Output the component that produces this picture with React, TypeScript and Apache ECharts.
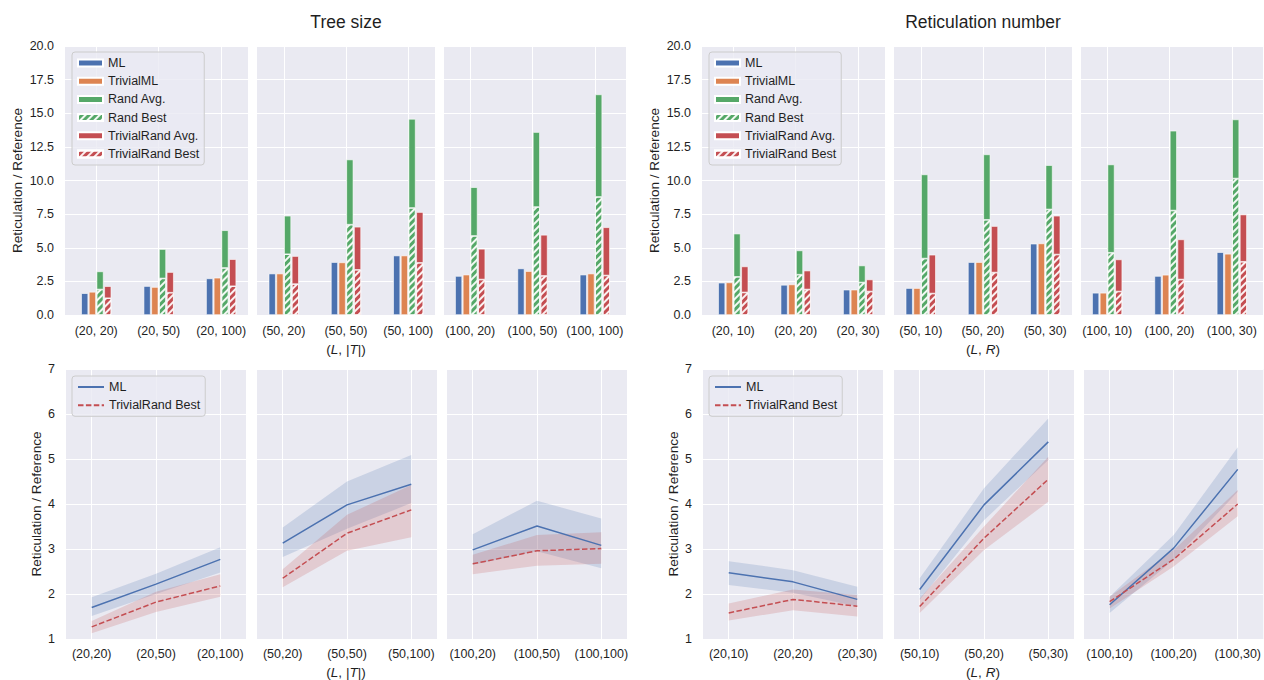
import React, { useEffect, useRef } from 'react';
import * as echarts from 'echarts';

// ---------- categories ----------
const treeCategories = ['(20, 20)', '(20, 50)', '(20, 100)', '(50, 20)', '(50, 50)', '(50, 100)', '(100, 20)', '(100, 50)', '(100, 100)'];
const treeLineCategories = ['(20,20)', '(20,50)', '(20,100)', '(50,20)', '(50,50)', '(50,100)', '(100,20)', '(100,50)', '(100,100)'];
const retCategories = ['(20, 10)', '(20, 20)', '(20, 30)', '(50, 10)', '(50, 20)', '(50, 30)', '(100, 10)', '(100, 20)', '(100, 30)'];
const retLineCategories = ['(20,10)', '(20,20)', '(20,30)', '(50,10)', '(50,20)', '(50,30)', '(100,10)', '(100,20)', '(100,30)'];

// ---------- bar values (Tree size) ----------
const treeML = [1.62, 2.15, 2.72, 3.08, 3.93, 4.42, 2.9, 3.46, 3.0];
const treeTrivialML = [1.72, 2.08, 2.77, 3.08, 3.91, 4.42, 3.0, 3.26, 3.08];
const treeRandAvg = [3.24, 4.9, 6.3, 7.38, 11.56, 14.58, 9.5, 13.6, 16.4];
const treeRandBest = [1.9, 2.72, 3.5, 4.52, 6.72, 7.96, 5.88, 8.03, 8.78];
const treeTrivRandAvg = [2.14, 3.19, 4.15, 4.38, 6.56, 7.65, 4.92, 5.96, 6.52];
const treeTrivRandBest = [1.25, 1.66, 2.14, 2.3, 3.36, 3.88, 2.64, 2.91, 2.94];

// ---------- bar values (Reticulation number) ----------
const retML = [2.4, 2.24, 1.88, 2.0, 3.93, 5.3, 1.65, 2.9, 4.67];
const retTrivialML = [2.42, 2.27, 1.88, 2.0, 3.93, 5.32, 1.65, 2.99, 4.55];
const retRandAvg = [6.05, 4.8, 3.68, 10.45, 11.94, 11.14, 11.19, 13.7, 14.54];
const retRandBest = [2.84, 3.0, 2.42, 4.2, 7.08, 7.85, 4.63, 7.77, 10.15];
const retTrivRandAvg = [3.61, 3.3, 2.64, 4.48, 6.61, 7.38, 4.13, 5.62, 7.47];
const retTrivRandBest = [1.68, 1.9, 1.75, 1.6, 3.16, 4.5, 1.75, 2.64, 3.96];

// ---------- line values (Tree size) ----------
const treeLineML = [1.7, 2.22, 2.77, 3.13, 3.98, 4.44, 2.98, 3.51, 3.08];
const treeLineMLLow = [1.51, 2.0, 2.48, 2.82, 3.45, 4.02, 2.65, 2.95, 2.57];
const treeLineMLHigh = [1.93, 2.45, 3.04, 3.48, 4.5, 5.09, 3.33, 4.07, 3.68];
const treeLineTRB = [1.27, 1.82, 2.18, 2.35, 3.35, 3.87, 2.67, 2.96, 3.01];
const treeLineTRBLow = [1.13, 1.6, 1.94, 2.15, 2.96, 3.26, 2.44, 2.63, 2.67];
const treeLineTRBHigh = [1.4, 2.05, 2.44, 2.55, 3.76, 4.42, 2.87, 3.31, 3.37];

// ---------- line values (Reticulation number) ----------
const retLineML = [2.47, 2.27, 1.88, 2.1, 3.98, 5.38, 1.76, 3.02, 4.77];
const retLineMLLow = [2.2, 2.03, 1.72, 1.87, 3.64, 4.98, 1.58, 2.76, 4.27];
const retLineMLHigh = [2.73, 2.53, 2.16, 2.35, 4.35, 5.9, 1.94, 3.31, 5.26];
const retLineTRB = [1.58, 1.88, 1.73, 1.72, 3.24, 4.55, 1.83, 2.77, 4.0];
const retLineTRBLow = [1.41, 1.64, 1.5, 1.58, 2.98, 4.05, 1.68, 2.61, 3.73];
const retLineTRBHigh = [1.79, 2.1, 1.98, 1.9, 3.5, 5.05, 1.94, 2.98, 4.31];

// ---------- text ----------
const groupTitles = ['Tree size', 'Reticulation number'];
const yAxisTitle = 'Reticulation / Reference';
const barLegendNames = ['ML', 'TrivialML', 'Rand Avg.', 'Rand Best', 'TrivialRand Avg.', 'TrivialRand Best'];

// ---------- layout / style ----------
const FONT = 'Liberation Sans, Arial, Helvetica, sans-serif';
const TEXT = '#1f1f1f';
const BG = '#EAEAF2';
const BLUE = '#4C72B0';
const ORANGE = '#DD8452';
const GREEN = '#55A868';
const RED = '#C44E52';
const GROUP_DX = [0, 637];
const TOP_PANELS = [
  { left: 65, width: 183, min: -0.5, max: 2.43 },
  { left: 257, width: 178, min: -0.43, max: 2.43 },
  { left: 444, width: 182, min: -0.42, max: 2.5 },
];
const BOTTOM_PANELS = [
  { left: 66, width: 180, min: -0.4, max: 2.4 },
  { left: 257, width: 180, min: -0.4, max: 2.4 },
  { left: 447, width: 180, min: -0.4, max: 2.4 },
];
const hatch = {
  symbol: 'rect',
  symbolSize: 1,
  dashArrayX: [1, 0],
  dashArrayY: [1.4, 2.2],
  rotation: -Math.PI / 4,
  color: 'rgba(255,255,255,0.92)',
};

function buildOption() {
  const groups = [
    {
      cats: treeCategories, lineCats: treeLineCategories,
      ml: treeML, tml: treeTrivialML, ra: treeRandAvg, rb: treeRandBest, ta: treeTrivRandAvg, tb: treeTrivRandBest,
      lml: treeLineML, lmlLo: treeLineMLLow, lmlHi: treeLineMLHigh,
      ltrb: treeLineTRB, ltrbLo: treeLineTRBLow, ltrbHi: treeLineTRBHigh,
      xlabel: '{a|(}{b|L}{a|, |}{b|T}{a||)}',
    },
    {
      cats: retCategories, lineCats: retLineCategories,
      ml: retML, tml: retTrivialML, ra: retRandAvg, rb: retRandBest, ta: retTrivRandAvg, tb: retTrivRandBest,
      lml: retLineML, lmlLo: retLineMLLow, lmlHi: retLineMLHigh,
      ltrb: retLineTRB, ltrbLo: retLineTRBLow, ltrbHi: retLineTRBHigh,
      xlabel: '{a|(}{b|L}{a|, }{b|R}{a|)}',
    },
  ];

  const grid: any[] = [];
  const xAxis: any[] = [];
  const yAxis: any[] = [];
  const series: any[] = [];
  const legend: any[] = [];
  const graphic: any[] = [];

  const ticks = [0, 1, 2];
  // data stored as [value, position]; encode maps position to x so that stacking happens on y
  const pairs = (arr: number[], p: number) => arr.slice(p * 3, p * 3 + 3).map((v, i) => [+v.toFixed(3), i]);
  const diff = (a: number[], b: number[], p: number) =>
    a.slice(p * 3, p * 3 + 3).map((v, i) => [+(v - b[p * 3 + i]).toFixed(3), i]);
  const encode = { x: 1, y: 0 };

  const axisLabelBase = { color: TEXT, fontSize: 12.5, fontFamily: FONT };
  const nameStyle = { color: TEXT, fontSize: 13.6, fontFamily: FONT };

  groups.forEach((g, gi) => {
    const dx = GROUP_DX[gi];
    // ---------- top row (bars) ----------
    TOP_PANELS.forEach((P, p) => {
      const idx = grid.length;
      grid.push({ left: P.left + dx, top: 46, width: P.width, height: 269, show: true, backgroundColor: BG, borderWidth: 0 });
      xAxis.push({
        type: 'value', gridIndex: idx, min: P.min, max: P.max,
        axisLine: { show: false },
        axisTick: { show: false, customValues: ticks },
        axisLabel: { ...axisLabelBase, margin: 9, customValues: ticks, formatter: (v: number) => g.cats[p * 3 + Math.round(v)] },
        splitLine: { show: true, lineStyle: { color: '#ffffff', width: 1 } },
      });
      yAxis.push({
        type: 'value', gridIndex: idx, min: 0, max: 20, interval: 2.5,
        axisLine: { show: false }, axisTick: { show: false },
        axisLabel: { ...axisLabelBase, show: p === 0, margin: 11, formatter: (v: number) => v.toFixed(1) },
        splitLine: { show: true, lineStyle: { color: '#ffffff', width: 1 } },
        name: p === 0 ? yAxisTitle : '', nameLocation: 'middle', nameGap: 41, nameTextStyle: nameStyle,
      });
      const base = { type: 'bar', xAxisIndex: idx, yAxisIndex: idx, encode, barWidth: 7, barGap: '10%', silent: true };
      const border = { borderColor: '#ffffff', borderWidth: 0.6 };
      series.push({ ...base, name: 'ML', data: pairs(g.ml, p), itemStyle: { color: BLUE, ...border } });
      series.push({ ...base, name: 'TrivialML', data: pairs(g.tml, p), itemStyle: { color: ORANGE, ...border } });
      series.push({ ...base, name: 'Rand Best', stack: 'rand' + idx, data: pairs(g.rb, p), itemStyle: { color: GREEN, decal: hatch, ...border } });
      series.push({ ...base, name: 'Rand Avg.', stack: 'rand' + idx, data: diff(g.ra, g.rb, p), itemStyle: { color: GREEN, ...border } });
      series.push({ ...base, name: 'TrivialRand Best', stack: 'triv' + idx, data: pairs(g.tb, p), itemStyle: { color: RED, decal: hatch, ...border } });
      series.push({ ...base, name: 'TrivialRand Avg.', stack: 'triv' + idx, data: diff(g.ta, g.tb, p), itemStyle: { color: RED, ...border } });
    });
    legend.push({
      left: 72 + dx, top: 52, orient: 'vertical', selectedMode: false,
      data: barLegendNames, icon: 'rect', itemWidth: 25, itemHeight: 7, itemGap: 4.2, itemTextGap: 10,
      padding: [4, 5, 4, 5], backgroundColor: 'rgba(234,234,242,0.8)', borderColor: '#cccccc', borderWidth: 1, borderRadius: 3,
      textStyle: { color: TEXT, fontSize: 12.5, fontFamily: FONT, lineHeight: 14 },
    });

    // ---------- bottom row (lines) ----------
    BOTTOM_PANELS.forEach((P, p) => {
      const idx = grid.length;
      grid.push({ left: P.left + dx, top: 369, width: P.width, height: 270, show: true, backgroundColor: BG, borderWidth: 0 });
      xAxis.push({
        type: 'value', gridIndex: idx, min: P.min, max: P.max,
        axisLine: { show: false },
        axisTick: { show: false, customValues: ticks },
        axisLabel: { ...axisLabelBase, margin: 8, customValues: ticks, formatter: (v: number) => g.lineCats[p * 3 + Math.round(v)] },
        splitLine: { show: true, lineStyle: { color: '#ffffff', width: 1 } },
      });
      yAxis.push({
        type: 'value', gridIndex: idx, min: 1, max: 7, interval: 1,
        axisLine: { show: false }, axisTick: { show: false },
        axisLabel: { ...axisLabelBase, show: p === 0, margin: 11 },
        splitLine: { show: true, lineStyle: { color: '#ffffff', width: 1 } },
        name: p === 0 ? yAxisTitle : '', nameLocation: 'middle', nameGap: 23, nameTextStyle: nameStyle,
      });
      const base = { type: 'line', xAxisIndex: idx, yAxisIndex: idx, encode, symbol: 'none', silent: true };
      const hidden = { lineStyle: { opacity: 0, width: 0 } };
      series.push({ ...base, ...hidden, name: 'ml-band-low', stack: 'mlb' + idx, data: pairs(g.lmlLo, p) });
      series.push({ ...base, ...hidden, name: 'ml-band', stack: 'mlb' + idx, data: diff(g.lmlHi, g.lmlLo, p), areaStyle: { color: 'rgba(76,114,176,0.2)', opacity: 1 } });
      series.push({ ...base, ...hidden, name: 'trb-band-low', stack: 'trbb' + idx, data: pairs(g.ltrbLo, p) });
      series.push({ ...base, ...hidden, name: 'trb-band', stack: 'trbb' + idx, data: diff(g.ltrbHi, g.ltrbLo, p), areaStyle: { color: 'rgba(196,78,82,0.2)', opacity: 1 } });
      series.push({ ...base, name: 'ML (line)', data: pairs(g.lml, p), itemStyle: { color: BLUE }, lineStyle: { color: BLUE, width: 1.5 }, z: 5 });
      series.push({ ...base, name: 'TrivialRand Best (line)', data: pairs(g.ltrb, p), itemStyle: { color: RED }, lineStyle: { color: RED, width: 1.5, type: [5.5, 2.4] }, z: 5 });
    });
    legend.push({
      left: 72 + dx, top: 376, orient: 'vertical', selectedMode: false,
      data: ['ML (line)', 'TrivialRand Best (line)'],
      formatter: (n: string) => n.replace(' (line)', ''),
      itemWidth: 26, itemHeight: 14, itemGap: 4.3, itemTextGap: 10,
      itemStyle: { opacity: 0 },
      padding: [4, 5, 4, 5], backgroundColor: 'rgba(234,234,242,0.8)', borderColor: '#cccccc', borderWidth: 1, borderRadius: 3,
      textStyle: { color: TEXT, fontSize: 12.5, fontFamily: FONT, lineHeight: 14 },
    });

    // ---------- titles and x labels ----------
    const cx = TOP_PANELS[1].left + TOP_PANELS[1].width / 2 + dx;
    graphic.push({
      type: 'text', x: cx, y: 22,
      style: { text: groupTitles[gi], fill: TEXT, fontSize: 17.5, fontFamily: FONT, align: 'center', verticalAlign: 'middle', textAlign: 'center', textVerticalAlign: 'middle' },
    });
    const rich = {
      a: { fontSize: 13.6, fontFamily: FONT, fill: TEXT, color: TEXT },
      b: { fontSize: 13.6, fontFamily: FONT, fontStyle: 'italic', fill: TEXT, color: TEXT },
    };
    [349, 672].forEach((y) => {
      graphic.push({
        type: 'text', x: cx, y,
        style: { text: g.xlabel, rich, fill: TEXT, fontSize: 13.6, fontFamily: FONT, align: 'center', verticalAlign: 'middle', textAlign: 'center', textVerticalAlign: 'middle' },
      });
    });
  });

  return {
    animation: false,
    backgroundColor: '#ffffff',
    textStyle: { fontFamily: FONT },
    grid, xAxis, yAxis, series, legend, graphic,
  };
}

export default function App() {
  const ref = useRef<HTMLDivElement>(null);
  useEffect(() => {
    document.body.style.margin = '0';
    if (!ref.current) return;
    const chart = echarts.init(ref.current, undefined, { renderer: 'svg' });
    chart.setOption(buildOption() as any);
    return () => chart.dispose();
  }, []);
  return <div ref={ref} style={{ width: 1264, height: 680 }} />;
}
